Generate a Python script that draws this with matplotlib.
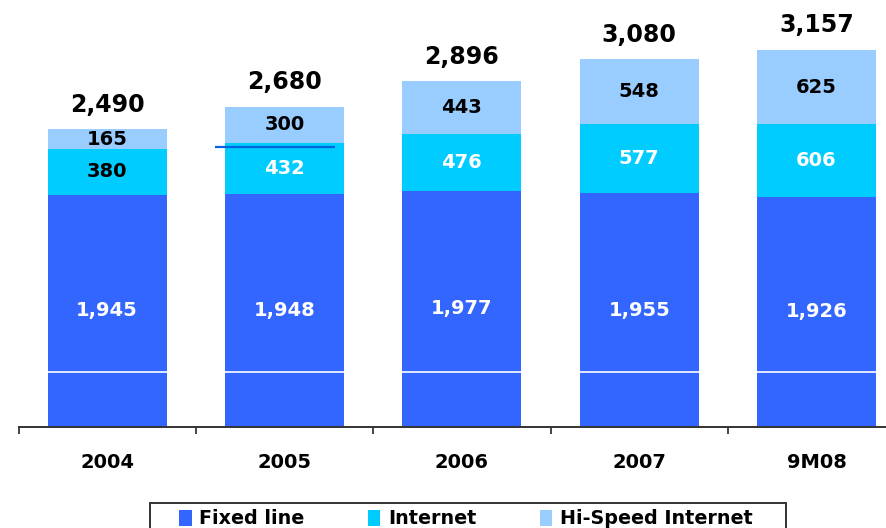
import matplotlib
matplotlib.use("Agg")
import matplotlib.pyplot as plt
from matplotlib.patches import Rectangle, Patch
import numpy as np

categories = ["2004", "2005", "2006", "2007", "9M08"]
fixed_line = [1945, 1948, 1977, 1955, 1926]
internet = [380, 432, 476, 577, 606]
hi_speed = [165, 300, 443, 548, 625]
totals = [2490, 2680, 2896, 3080, 3157]
series_names = ["Fixed line", "Internet", "Hi-Speed Internet"]

colors = ["#3366FF", "#00CCFF", "#99CCFF"]
internet_label_colors = ["black", "white", "white", "white", "white"]

W, H = 886, 528
fig = plt.figure(figsize=(W / 100, H / 100), dpi=100)
ax = fig.add_axes([18.5 / W, (H - 427) / H, (W - 18.5) / W, 427 / H])

x = np.arange(len(categories))
bw = 0.67
fixed_line = np.array(fixed_line)
internet = np.array(internet)
hi_speed = np.array(hi_speed)

ax.bar(x, fixed_line, bw, color=colors[0], zorder=2)
ax.bar(x, internet, bw, bottom=fixed_line, color=colors[1], zorder=2)
ax.bar(x, hi_speed, bw, bottom=fixed_line + internet, color=colors[2], zorder=2)

# artifacts seen in the reference
ax.axhline(461, color="white", lw=1.2, zorder=3)
ax.hlines(2345, 1 - 0.394, 1 + 0.286, color="#0066DD", lw=1.6, zorder=4)

lab_fs = 14
for i in range(len(categories)):
    ax.text(x[i], fixed_line[i] / 2, f"{fixed_line[i]:,}", ha="center", va="center",
            color="white", fontsize=lab_fs, fontweight="bold", zorder=5)
    ax.text(x[i], fixed_line[i] + internet[i] / 2, f"{internet[i]:,}", ha="center", va="center",
            color=internet_label_colors[i], fontsize=lab_fs, fontweight="bold", zorder=5)
    ax.text(x[i], fixed_line[i] + internet[i] + hi_speed[i] / 2, f"{hi_speed[i]:,}",
            ha="center", va="center", color="black", fontsize=lab_fs, fontweight="bold", zorder=5)
    top = fixed_line[i] + internet[i] + hi_speed[i]
    ax.annotate(f"{totals[i]:,}", (x[i], top), xytext=(0, 12.5), textcoords="offset points",
                ha="center", va="baseline", fontsize=17, fontweight="bold", color="black")

ax.set_xlim(-0.5, (W - 106.5) / 177.5)
ax.set_ylim(0, 427 / 0.1195)

for s in ["left", "top", "right"]:
    ax.spines[s].set_visible(False)
ax.spines["bottom"].set_color("#333333")
ax.spines["bottom"].set_linewidth(1.4)
ax.set_yticks([])

ax.set_xticks(np.arange(len(categories)) - 0.5)
ax.set_xticklabels([])
ax.tick_params(axis="x", which="major", direction="out", length=5, width=1.4, color="#444444")
ax.set_xticks(x, minor=True)
ax.set_xticklabels(categories, minor=True, fontsize=14, fontweight="bold")
ax.tick_params(axis="x", which="minor", length=0, pad=19)

# legend box (cut off at bottom, as in reference)
fig.patches.append(Rectangle((150 / W, -0.1), (786 - 150) / W, 0.1 + (H - 503) / H,
                             transform=fig.transFigure, fill=False, edgecolor="#333333",
                             lw=1.4, zorder=10))
handles = [Patch(facecolor=c, edgecolor="none") for c in colors]
fig.legend(handles, series_names, loc="center", bbox_to_anchor=(466 / W, (H - 519) / H),
           ncol=3, frameon=False, prop={"weight": "bold", "size": 13.8},
           handlelength=0.65, handleheight=0.9, handletextpad=0.4, columnspacing=3.3)

fig.savefig("out.png", dpi=100)
